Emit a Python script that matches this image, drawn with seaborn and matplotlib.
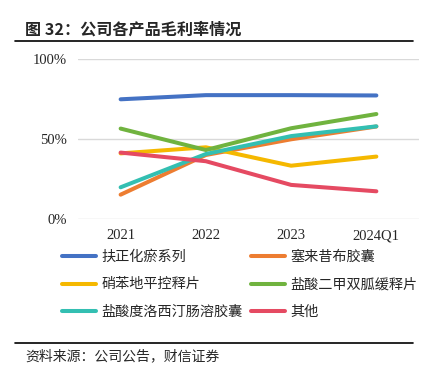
import matplotlib
matplotlib.use("Agg")
import matplotlib.pyplot as plt
import matplotlib.lines as mlines
from matplotlib.ticker import PercentFormatter
import pandas as pd
import seaborn as sns

# data (gross margin, %)
periods = ["2021", "2022", "2023", "2024Q1"]
products = ["扶正化瘀系列", "塞来昔布胶囊", "硝苯地平控释片",
            "盐酸二甲双胍缓释片", "盐酸度洛西汀肠溶胶囊", "其他"]
fzhy = [75.0, 77.6, 77.6, 77.4]
slxb = [15.4, 40.2, 50.0, 58.0]
xbdp = [41.2, 45.0, 33.5, 39.2]
ejsg = [56.7, 43.3, 56.9, 65.8]
dlxt = [20.0, 40.8, 52.0, 58.1]
other = [41.7, 36.3, 21.5, 17.5]
colors = ["#4472C4", "#ED7D31", "#F5B800", "#70B33F", "#33BFB2", "#E54A62"]

series = [fzhy, slxb, xbdp, ejsg, dlxt, other]
df = pd.DataFrame({
    "period": periods * len(products),
    "product": [p for p in products for _ in periods],
    "value": [v for s in series for v in s],
})

sns.set_style("white")
plt.rcParams['font.family'] = ['Liberation Serif', 'Noto Sans CJK SC', 'DejaVu Sans']

fig = plt.figure(figsize=(4.39, 3.83), dpi=100)
ax = fig.add_axes([78 / 439, 1 - 219.3 / 383, 341 / 439, 160 / 383])

sns.lineplot(data=df, x="period", y="value", hue="product", hue_order=products,
             palette=colors, linewidth=2.9, ax=ax, legend=False, sort=False)

ax.set_xlim(-0.5, 3.5)
ax.set_ylim(0, 100)
ax.set_yticks([0, 50, 100])
ax.yaxis.set_major_formatter(PercentFormatter(decimals=0))
ax.grid(axis="y", color="#D9D9D9", linewidth=1)
ax.grid(axis="x", visible=False)
for s in ax.spines.values():
    s.set_visible(False)
ax.tick_params(axis="y", length=0, pad=8, labelsize=10.5)
ax.tick_params(axis="x", length=0, pad=7, labelsize=10.5)
ax.set_xlabel("")
ax.set_ylabel("")

# legend, filled row by row like the original
order = [0, 2, 4, 1, 3, 5]
handles = [mlines.Line2D([], [], color=colors[i], linewidth=2.9) for i in order]
labels = [products[i] for i in order]
fig.legend(handles, labels, loc="upper left", ncol=2, frameon=False,
           bbox_to_anchor=(62 / 439, 1 - 250 / 383), borderpad=0, borderaxespad=0,
           handlelength=2.4, handletextpad=0.36, columnspacing=0.6,
           labelspacing=0.95, prop={"family": "Noto Sans CJK SC", "size": 10.2})

# title, rules and source
fig.text(25 / 439, 1 - 30 / 383, "图 32：公司各产品毛利率情况", fontsize=11.6,
         fontweight="bold", family=["Noto Sans CJK SC", "DejaVu Sans"], va="center")
fig.add_artist(mlines.Line2D([15 / 439, 413 / 439], [1 - 41 / 383, 1 - 41 / 383],
                             color="black", linewidth=1.2))
fig.add_artist(mlines.Line2D([15 / 439, 413 / 439], [1 - 343 / 383, 1 - 343 / 383],
                             color="black", linewidth=1.2))
fig.text(25 / 439, 1 - 356 / 383, "资料来源：公司公告，财信证券", fontsize=10,
         family=["Noto Sans CJK SC", "DejaVu Sans"], va="center", style="italic")

fig.savefig("out.png", dpi=100)
